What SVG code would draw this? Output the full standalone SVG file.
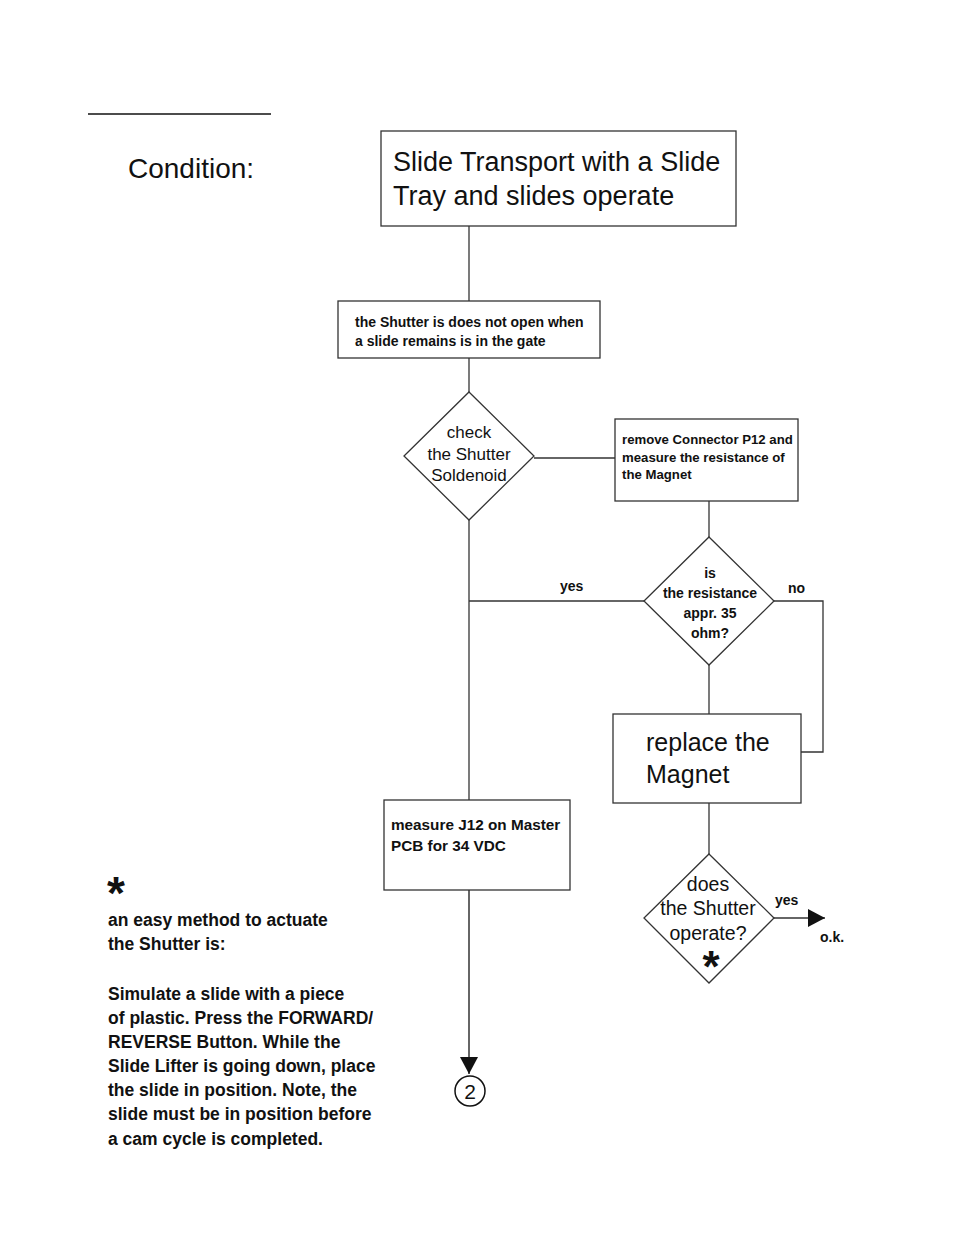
<svg xmlns="http://www.w3.org/2000/svg" width="954" height="1235" viewBox="0 0 954 1235">
<style>
text{font-family:"Liberation Sans",Arial,sans-serif;fill:#111}
.b{font-weight:bold}
.box{fill:#fff;stroke:#333;stroke-width:1.3}
.ln{fill:none;stroke:#333;stroke-width:1.3}
.c{text-anchor:middle}
</style>
<defs>
<marker id="ah" markerWidth="17" markerHeight="18" refX="17" refY="9" orient="auto" markerUnits="userSpaceOnUse" viewBox="0 0 17 18"><path d="M0,0 L17,9 L0,18 Z" fill="#111"/></marker>
</defs>
<rect x="0" y="0" width="954" height="1235" fill="#fff"/>
<line x1="88" y1="114" x2="271" y2="114" stroke="#111" stroke-width="1.3"/>
<text x="128" y="178" font-size="28">Condition:</text>

<g id="connectors">
<line class="ln" x1="469" y1="226" x2="469" y2="301"/>
<line class="ln" x1="469" y1="358" x2="469" y2="392"/>
<line class="ln" x1="534" y1="458" x2="615" y2="458"/>
<line class="ln" x1="709" y1="501" x2="709" y2="537"/>
<line class="ln" x1="469" y1="601" x2="644" y2="601"/>
<polyline class="ln" points="774,601 823,601 823,752 801,752"/>
<line class="ln" x1="709" y1="665" x2="709" y2="714"/>
<line class="ln" x1="709" y1="803" x2="709" y2="854"/>
<line class="ln" x1="469" y1="520" x2="469" y2="800"/>
<line class="ln" x1="774" y1="918" x2="825" y2="918" marker-end="url(#ah)" style="stroke-width:1.5"/>
<line class="ln" x1="469" y1="890" x2="469" y2="1074" marker-end="url(#ah)" style="stroke-width:1.5"/>
<text class="b" x="560" y="591" font-size="14">yes</text>
<text class="b" x="788" y="593" font-size="14">no</text>
<text class="b" x="775" y="905" font-size="14">yes</text>
<text class="b" x="820" y="942" font-size="14">o.k.</text>
</g>

<g id="n1">
<rect class="box" x="381" y="131" width="355" height="95"/>
<text x="393" y="171" font-size="27">Slide Transport with a Slide</text>
<text x="393" y="205" font-size="27">Tray and slides operate</text>
</g>

<g id="n2">
<rect class="box" x="338" y="301" width="262" height="57"/>
<text class="b" x="355" y="327" font-size="14">the Shutter is does not open when</text>
<text class="b" x="355" y="346" font-size="14">a slide remains is in the gate</text>
</g>

<g id="n3">
<polygon class="box" points="469,392 534,456 469,520 404,456"/>
<text class="c" x="469" y="438" font-size="17">check</text>
<text class="c" x="469" y="460" font-size="17">the Shutter</text>
<text class="c" x="469" y="481" font-size="17">Soldenoid</text>
</g>

<g id="n4">
<rect class="box" x="615" y="419" width="183" height="82"/>
<text class="b" x="622" y="444" font-size="13.2">remove Connector P12 and</text>
<text class="b" x="622" y="462" font-size="13.2">measure the resistance of</text>
<text class="b" x="622" y="479" font-size="13.2">the Magnet</text>
</g>

<g id="n5">
<polygon class="box" points="709,537 774,601 709,665 644,601"/>
<text class="c b" x="710" y="578" font-size="14">is</text>
<text class="c b" x="710" y="598" font-size="14">the resistance</text>
<text class="c b" x="710" y="618" font-size="14">appr. 35</text>
<text class="c b" x="710" y="638" font-size="14">ohm?</text>
</g>

<g id="n6">
<rect class="box" x="613" y="714" width="188" height="89"/>
<text x="646" y="751" font-size="25">replace the</text>
<text x="646" y="783" font-size="25">Magnet</text>
</g>

<g id="n7">
<polygon class="box" points="709,854 774,918 709,983 644,918"/>
<text class="c" x="708" y="891" font-size="19.5">does</text>
<text class="c" x="708" y="915" font-size="19.5">the Shutter</text>
<text class="c" x="708" y="940" font-size="19.5">operate?</text>
<text class="c b" x="711" y="982" font-size="44">*</text>
</g>

<g id="n8">
<rect class="box" x="384" y="800" width="186" height="90"/>
<text class="b" x="391" y="830" font-size="15.3">measure J12 on Master</text>
<text class="b" x="391" y="851" font-size="15.3">PCB for 34 VDC</text>
</g>

<g id="n9">
<circle cx="470" cy="1091" r="15" fill="#fff" stroke="#111" stroke-width="1.5"/>
<text class="c" x="470" y="1099" font-size="21">2</text>
</g>

<g id="note">
<text class="b" x="107" y="909" font-size="46">*</text>
<text class="b" x="108" y="926" font-size="17.5">an easy method to actuate</text>
<text class="b" x="108" y="950" font-size="17.5">the Shutter is:</text>
<text class="b" x="108" y="1000" font-size="17.5">Simulate a slide with a piece</text>
<text class="b" x="108" y="1024" font-size="17.5">of plastic. Press the FORWARD/</text>
<text class="b" x="108" y="1048" font-size="17.5">REVERSE Button. While the</text>
<text class="b" x="108" y="1072" font-size="17.5">Slide Lifter is going down, place</text>
<text class="b" x="108" y="1096" font-size="17.5">the slide in position. Note, the</text>
<text class="b" x="108" y="1120" font-size="17.5">slide must be in position before</text>
<text class="b" x="108" y="1145" font-size="17.5">a cam cycle is completed.</text>
</g>
</svg>
